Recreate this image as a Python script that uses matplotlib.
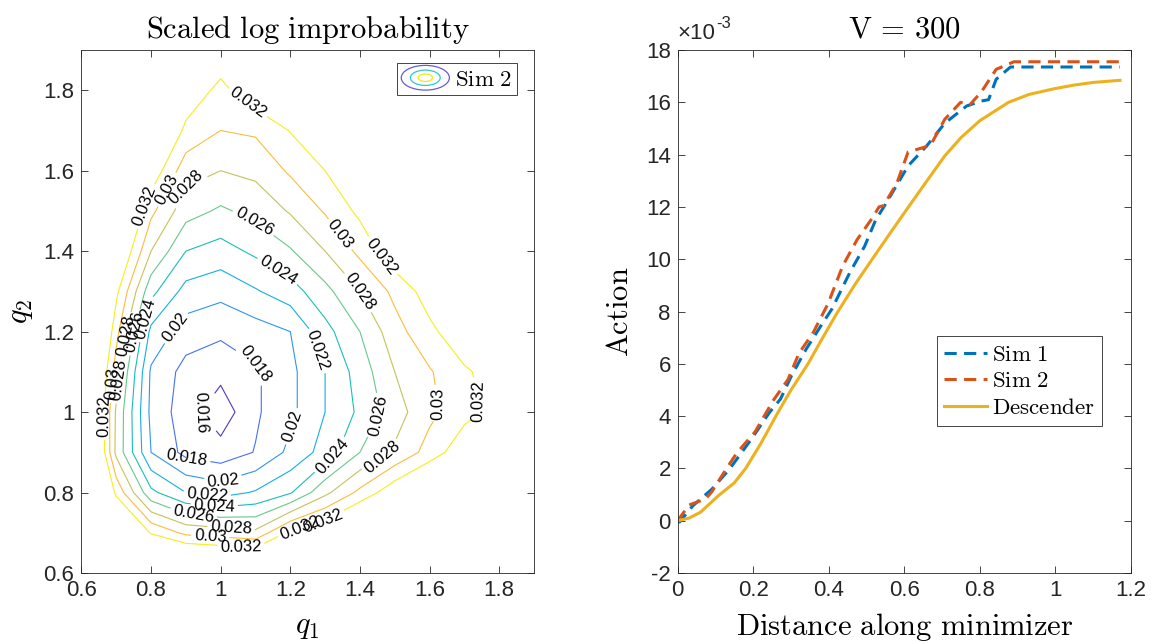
import numpy as np
import matplotlib
matplotlib.use('Agg')
import matplotlib.pyplot as plt
from matplotlib.patches import Ellipse
from matplotlib.legend_handler import HandlerBase
from matplotlib.ticker import FixedLocator, FuncFormatter

plt.rcParams['font.family'] = ['Liberation Sans', 'DejaVu Sans']
plt.rcParams['mathtext.fontset'] = 'cm'

# ---- left panel: scaled log improbability on a coarse (q1, q2) grid ----
q1_grid = [0.6, 0.7, 0.8, 0.9, 1.0, 1.1, 1.2, 1.3, 1.4, 1.5, 1.6, 1.7, 1.8, 1.9]
q2_grid = [0.6, 0.7, 0.8, 0.9, 1.0, 1.1, 1.2, 1.3, 1.4, 1.5, 1.6, 1.7, 1.8, 1.9]
# one row per q2 value (bottom to top), one column per q1 value
improb = [
    [0.046, 0.044, 0.040, 0.039, 0.0385, 0.038, 0.040, 0.042, 0.045, 0.046, 0.047, 0.048, 0.050, 0.052],
    [0.044, 0.037, 0.0318, 0.0295, 0.029, 0.0285, 0.0325, 0.034, 0.037, 0.040, 0.042, 0.044, 0.046, 0.048],
    [0.042, 0.0315, 0.0245, 0.022, 0.0212, 0.0222, 0.0238, 0.0275, 0.0305, 0.0335, 0.036, 0.039, 0.042, 0.045],
    [0.041, 0.0275, 0.020, 0.0174, 0.0168, 0.0181, 0.0205, 0.0228, 0.026, 0.0283, 0.0308, 0.0335, 0.036, 0.038],
    [0.040, 0.0277, 0.0195, 0.0169, 0.0148, 0.0177, 0.0195, 0.022, 0.0244, 0.0271, 0.0295, 0.0313, 0.0328, 0.035],
    [0.040, 0.029, 0.0197, 0.0173, 0.0166, 0.0177, 0.0195, 0.022, 0.0249, 0.028, 0.0298, 0.0317, 0.033, 0.035],
    [0.041, 0.0307, 0.0215, 0.019, 0.0184, 0.0191, 0.020, 0.0233, 0.026, 0.0292, 0.0315, 0.0335, 0.035, 0.037],
    [0.042, 0.0325, 0.0246, 0.0213, 0.0206, 0.0218, 0.0231, 0.0254, 0.028, 0.0305, 0.033, 0.036, 0.038, 0.040],
    [0.044, 0.035, 0.028, 0.024, 0.0232, 0.0244, 0.0258, 0.028, 0.0305, 0.0335, 0.036, 0.038, 0.040, 0.042],
    [0.046, 0.037, 0.0305, 0.0268, 0.0257, 0.0266, 0.0282, 0.0302, 0.0325, 0.036, 0.038, 0.040, 0.042, 0.044],
    [0.048, 0.039, 0.0335, 0.0288, 0.028, 0.0285, 0.0303, 0.032, 0.035, 0.038, 0.040, 0.042, 0.044, 0.046],
    [0.050, 0.041, 0.036, 0.0315, 0.030, 0.0303, 0.0321, 0.0345, 0.037, 0.040, 0.042, 0.044, 0.046, 0.048],
    [0.052, 0.044, 0.038, 0.0335, 0.0314, 0.0335, 0.035, 0.037, 0.040, 0.042, 0.044, 0.046, 0.048, 0.050],
    [0.054, 0.046, 0.040, 0.036, 0.0335, 0.036, 0.038, 0.040, 0.042, 0.044, 0.046, 0.048, 0.050, 0.052],
]
levels = [0.016, 0.018, 0.020, 0.022, 0.024, 0.026, 0.028, 0.030, 0.032]
level_colors = ['#4a3bc4', '#4870f0', '#2f95ee', '#13b0e0', '#17bfb6',
                '#66c98c', '#c4c35a', '#f9bd3e', '#f5ee1c']
# where the inline contour labels sit (q1, q2)
label_spots = [
    (1.07, 1.76), (0.76, 1.52), (1.48, 1.40), (0.665, 0.99), (1.75, 1.03), (1.06, 0.672), (1.29, 0.74),
    (0.83, 1.56), (1.37, 1.46), (1.62, 1.02), (0.688, 1.07), (1.23, 0.725), (0.97, 0.688),
    (0.88, 1.57), (1.42, 1.31), (1.47, 0.88), (0.705, 1.08), (1.03, 0.71),
    (1.1, 1.48), (1.455, 0.99), (0.73, 1.19), (0.92, 0.735),
    (1.17, 1.36), (1.33, 0.88), (0.745, 1.2), (0.98, 0.755),
    (1.27, 1.15), (0.79, 1.23), (0.96, 0.787),
    (0.87, 1.21), (1.22, 0.96), (1.01, 0.82),
    (1.1, 1.12), (0.9, 0.87),
    (0.945, 1.0),
]

# ---- right panel: action along the minimizer (values in units of 1e-3) ----
dist_sim1 = [0, 0.005, 0.04, 0.09, 0.137, 0.195, 0.243, 0.272, 0.301, 0.34, 0.379, 0.408,
             0.456, 0.495, 0.524, 0.55, 0.61, 0.659, 0.707, 0.765, 0.804, 0.823, 0.843, 0.881, 1.17]
action_sim1 = [0, -0.05, 0.57, 1.2, 1.97, 3.12, 4.14, 4.65, 5.54, 6.56, 7.45, 8.09,
               9.5, 10.5, 11.5, 12.1, 13.57, 14.33, 15.2, 15.86, 16.05, 16.1, 16.88, 17.35, 17.35]
dist_sim2 = [0, 0.03, 0.06, 0.075, 0.09, 0.128, 0.157, 0.205, 0.253, 0.292, 0.321, 0.359, 0.398,
             0.437, 0.475, 0.514, 0.533, 0.545, 0.58, 0.61, 0.669, 0.707, 0.749, 0.773, 0.804,
             0.843, 0.89, 1.17]
action_sim2 = [0, 0.6, 0.76, 0.85, 1.1, 1.97, 2.6, 3.4, 4.6, 5.4, 6.4, 7.2, 8.3,
               9.75, 10.75, 11.55, 12.0, 12.05, 12.9, 14.1, 14.35, 15.35, 16.0, 15.9, 16.4,
               17.26, 17.55, 17.55]
dist_desc = [0, 0.03, 0.06, 0.108, 0.15, 0.18, 0.22, 0.263, 0.3, 0.345, 0.38, 0.42, 0.47,
             0.522, 0.565, 0.611, 0.66, 0.707, 0.75, 0.8, 0.876, 0.93, 0.997, 1.05, 1.1, 1.171]
action_desc = [0, 0.1, 0.32, 0.96, 1.45, 2.0, 2.95, 4.08, 5.0, 6.0, 6.9, 7.9, 9.05,
               10.15, 11.05, 12.0, 13.0, 13.95, 14.65, 15.3, 16.0, 16.3, 16.52, 16.66, 16.76, 16.84]

AXC = '#262626'


class ContourIcon(HandlerBase):
    """Legend icon: three nested ellipses like MATLAB's contour legend."""
    def create_artists(self, legend, orig_handle, xdescent, ydescent,
                       width, height, fontsize, trans):
        cx = 0.5 * width - xdescent
        cy = 0.5 * height - ydescent
        out = []
        for frac, col in [(1.0, '#6a5ad8'), (0.62, '#2ec8d0'), (0.3, '#f2e81a')]:
            e = Ellipse((cx, cy), width * frac, height * 1.3 * frac, fill=False,
                        edgecolor=col, lw=0.9, transform=trans)
            out.append(e)
        return out


def style_axes(ax):
    for s in ax.spines.values():
        s.set_color(AXC)
        s.set_linewidth(0.6)
    ax.tick_params(direction='in', length=5, width=0.6, top=True, right=True,
                   labelsize=16, colors=AXC)
    ax.tick_params(axis='x', pad=5)
    ax.tick_params(axis='y', pad=5)


fig = plt.figure(figsize=(11.51, 6.43), dpi=100)
bottom = (643 - 573) / 643
height = 523 / 643
ax1 = fig.add_axes([81.4 / 1151, bottom, 452.6 / 1151, height])
ax2 = fig.add_axes([677.7 / 1151, bottom, 453.3 / 1151, height])

# left: contour plot
cs = ax1.contour(q1_grid, q2_grid, np.array(improb), levels=levels,
                 colors=level_colors, linewidths=0.8)
ax1.clabel(cs, fmt='%g', fontsize=12, inline=True, inline_spacing=3, colors='k',
           manual=label_spots)
ax1.set_xlim(0.6, 1.9)
ax1.set_ylim(0.6, 1.9)
ticks = [0.6, 0.8, 1.0, 1.2, 1.4, 1.6, 1.8]
ax1.xaxis.set_major_locator(FixedLocator(ticks))
ax1.yaxis.set_major_locator(FixedLocator(ticks))
fmt_g = FuncFormatter(lambda v, p: f'{v:g}')
ax1.xaxis.set_major_formatter(fmt_g)
ax1.yaxis.set_major_formatter(fmt_g)
style_axes(ax1)
ax1.set_title(r'$\mathrm{Scaled\ log\ improbability}$', fontsize=22, pad=9)
ax1.set_xlabel('$q_1$', fontsize=22, labelpad=7)
ax1.set_ylabel('$q_2$', fontsize=22, labelpad=6)
leg1 = ax1.legend([object()], [r'$\mathrm{Sim\ 2}$'], handler_map={object: ContourIcon()},
                  loc='upper right', bbox_to_anchor=(0.962, 0.975), borderaxespad=0,
                  fontsize=16.5, fancybox=False, edgecolor=AXC, framealpha=1,
                  handlelength=2.1, handleheight=0.9, handletextpad=0.25, borderpad=0.2)
leg1.get_frame().set_linewidth(0.6)

# right: action curves
ax2.plot(dist_sim1, action_sim1, color='#0072BD', lw=2.2, dashes=(4.0, 2.4), label=r'$\mathrm{Sim\ 1}$')
ax2.plot(dist_sim2, action_sim2, color='#D95319', lw=2.2, dashes=(4.0, 2.4), label=r'$\mathrm{Sim\ 2}$')
ax2.plot(dist_desc, action_desc, color='#EDB120', lw=2.2, label=r'$\mathrm{Descender}$')
ax2.set_xlim(0, 1.2)
ax2.set_ylim(-2, 18)
ax2.xaxis.set_major_locator(FixedLocator([0, 0.2, 0.4, 0.6, 0.8, 1.0, 1.2]))
ax2.yaxis.set_major_locator(FixedLocator(list(range(-2, 19, 2))))
ax2.xaxis.set_major_formatter(fmt_g)
ax2.yaxis.set_major_formatter(fmt_g)
style_axes(ax2)
ax2.set_title(r'$\mathrm{V\,=\,300}$', fontsize=22, pad=9)
ax2.set_xlabel(r'$\mathrm{Distance\ along\ minimizer}$', fontsize=22, labelpad=7)
ax2.set_ylabel(r'$\mathrm{Action}$', fontsize=22, labelpad=8)
ax2.text(0.0, 1.012, '\u00d710', transform=ax2.transAxes, fontsize=16, color=AXC,
         ha='left', va='bottom')
ax2.text(0.085, 1.036, '-3', transform=ax2.transAxes, fontsize=12, color=AXC,
         ha='left', va='bottom')
leg2 = ax2.legend(loc='upper left', bbox_to_anchor=(0.572, 0.453), borderaxespad=0,
                  fontsize=16.5, fancybox=False, edgecolor=AXC, framealpha=1,
                  handlelength=1.9, handletextpad=0.2, borderpad=0.3, labelspacing=0.15)
leg2.get_frame().set_linewidth(0.6)

fig.savefig('out.png', dpi=100)
